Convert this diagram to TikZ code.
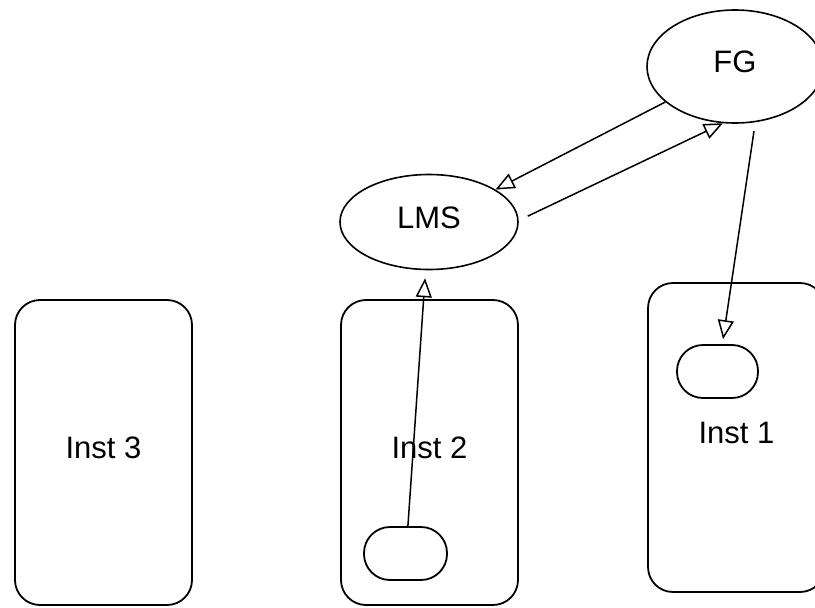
\documentclass[tikz,border=0pt]{standalone}
\usepackage{fontspec}
\setmainfont{Liberation Sans}
\usetikzlibrary{shapes.geometric,arrows.meta}
\begin{document}
\begin{tikzpicture}[x=1pt,y=-1pt,font=\fontsize{31}{36}\selectfont,
	inst/.style={draw,line width=1.8pt,rounded corners=25pt,minimum width=177pt,inner sep=0pt,text depth=9pt},
	pill/.style={draw,line width=1.8pt,rounded corners=26pt,minimum height=53pt,inner sep=0pt},
	oval/.style={draw,ellipse,line width=1.6pt,inner sep=0pt,text depth=9pt},
	conn/.style={line width=1.5pt,-{Triangle[open,length=19pt,width=16pt]}}]
	\useasboundingbox (0,0) rectangle (815,608);
	\node[inst,minimum height=305pt] (inst3) at (103.5,452.5) {Inst 3};
	\node[inst,minimum height=305pt] (inst2) at (429.5,452.5) {Inst 2};
	\node[inst,minimum height=309pt] (inst1) at (736.5,437.5) {Inst 1};
	\node[pill,minimum width=83pt] (p2) at (405.5,553.5) {};
	\node[pill,minimum width=81pt] (p1) at (717.5,371.5) {};
	\node[oval,minimum width=178pt,minimum height=95pt] (lms) at (429,222) {LMS};
	\node[oval,minimum width=176pt,minimum height=113pt] (fg) at (735,66.5) {FG};
	\draw[conn] (fg.207) -- (lms.26);
	\draw[conn,shorten <=10pt] (lms.1) -- (fg.258);
	\draw[conn,shorten <=9pt,shorten >=5pt] (fg.290) -- (p1.80);
	\draw[conn,shorten >=8pt] (p2.85) -- (lms.266);
\end{tikzpicture}
\end{document}
